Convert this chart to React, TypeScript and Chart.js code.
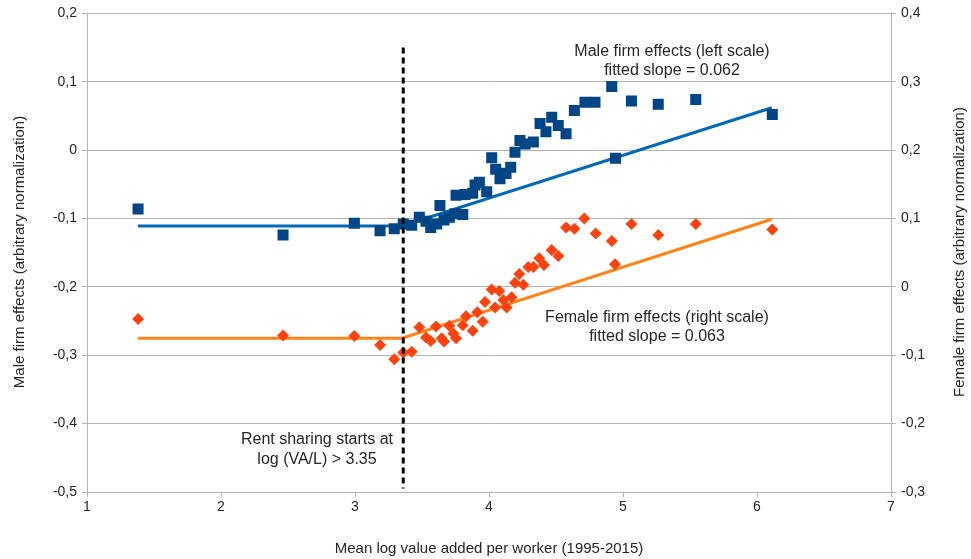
import React, { useEffect, useRef } from "react";
import { Chart, registerables } from "chart.js";

Chart.register(...registerables);

// Male firm effects (left scale)
const maleX = [1.381, 2.463, 2.995, 3.187, 3.293, 3.36, 3.423, 3.48, 3.53, 3.565, 3.61, 3.634, 3.664, 3.704, 3.746, 3.804, 3.754, 3.821, 3.878, 3.896, 3.928, 3.983, 4.02, 4.05, 4.082, 4.127, 4.162, 4.194, 4.231, 4.269, 4.331, 4.381, 4.425, 4.468, 4.517, 4.575, 4.637, 4.716, 4.791, 4.916, 4.944, 5.063, 5.263, 5.543, 6.114];
const maleY = [-0.086, -0.124, -0.107, -0.118, -0.115, -0.108, -0.11, -0.098, -0.104, -0.113, -0.108, -0.081, -0.102, -0.098, -0.093, -0.094, -0.066, -0.065, -0.063, -0.051, -0.047, -0.061, -0.011, -0.028, -0.042, -0.034, -0.025, -0.003, 0.014, 0.009, 0.012, 0.039, 0.027, 0.048, 0.036, 0.024, 0.058, 0.07, 0.07, 0.093, -0.012, 0.072, 0.067, 0.074, 0.052];

// Female firm effects (right scale)
const femaleX = [1.381, 2.463, 2.995, 3.187, 3.293, 3.36, 3.423, 3.48, 3.53, 3.565, 3.604, 3.647, 3.664, 3.704, 3.734, 3.754, 3.804, 3.828, 3.878, 3.913, 3.953, 3.97, 4.02, 4.045, 4.077, 4.107, 4.132, 4.169, 4.194, 4.226, 4.256, 4.293, 4.331, 4.375, 4.41, 4.468, 4.517, 4.575, 4.637, 4.711, 4.796, 4.916, 4.94, 5.063, 5.263, 5.543, 6.114];
const femaleY = [-0.047, -0.071, -0.072, -0.085, -0.106, -0.096, -0.095, -0.059, -0.074, -0.079, -0.058, -0.075, -0.08, -0.057, -0.068, -0.075, -0.056, -0.043, -0.064, -0.037, -0.051, -0.022, -0.004, -0.03, -0.006, -0.019, -0.03, -0.015, 0.006, 0.019, 0.003, 0.029, 0.029, 0.042, 0.032, 0.054, 0.045, 0.087, 0.085, 0.1, 0.078, 0.067, 0.033, 0.092, 0.076, 0.092, 0.084];

// Fitted lines
const fitX = [1.38, 3.35, 6.11];
const maleFitY = [-0.111, -0.111, 0.062];
const femaleFitY = [-0.075, -0.075, 0.099];

// Rent-sharing threshold marker
const cutoffX = [3.36, 3.36];
const cutoffY = [0.15, -0.495];

const xTicks = [1, 2, 3, 4, 5, 6, 7];

const FONT = "'Liberation Sans', Arial, sans-serif";
const TEXT = "#262626";
const GRID = "#b3b3b3";

const fmt = (v: number) => {
  if (Math.abs(v) < 1e-9) return "0";
  return v.toFixed(1).replace(".", ",");
};

const pts = (xs: number[], ys: number[]) => xs.map((x, i) => ({ x, y: ys[i] }));

const textPlugin = {
  id: "annotations",
  afterDraw(chart: any) {
    const ctx = chart.ctx;
    ctx.save();
    ctx.fillStyle = TEXT;
    ctx.textAlign = "center";
    ctx.textBaseline = "middle";
    ctx.font = `16px ${FONT}`;
    ctx.fillText("Male firm effects (left scale)", 672, 52);
    ctx.fillText("fitted slope = 0.062", 672, 71);
    ctx.fillText("Female firm effects (right scale)", 657, 318);
    ctx.fillText("fitted slope = 0.063", 657, 337);
    ctx.fillText("Rent sharing starts at", 317, 440);
    ctx.fillText("log (VA/L) > 3.35", 317, 460);

    ctx.font = `15px ${FONT}`;
    ctx.fillText("Mean log value added per worker (1995-2015)", 489, 549);
    ctx.save();
    ctx.translate(20, 252);
    ctx.rotate(-Math.PI / 2);
    ctx.fillText("Male firm effects (arbitrary normalization)", 0, 0);
    ctx.restore();
    ctx.save();
    ctx.translate(960, 252);
    ctx.rotate(-Math.PI / 2);
    ctx.fillText("Female firm effects (arbitrary normalization)", 0, 0);
    ctx.restore();
    ctx.restore();
  },
};

export default function App() {
  const ref = useRef<HTMLCanvasElement>(null);

  useEffect(() => {
    if (!ref.current) return;
    const chart = new Chart(ref.current, {
      type: "scatter",
      data: {
        datasets: [
          {
            label: "cutoff",
            data: pts(cutoffX, cutoffY),
            yAxisID: "y",
            showLine: true,
            borderColor: "#000000",
            borderWidth: 3,
            borderDash: [6, 4],
            pointRadius: 0,
          },
          {
            label: "Male firm effects",
            data: pts(maleX, maleY),
            yAxisID: "y",
            pointStyle: "rect",
            pointRadius: 7.8,
            pointBackgroundColor: "#004586",
            pointBorderColor: "#004586",
            pointBorderWidth: 0,
            showLine: false,
          },
          {
            label: "Female firm effects",
            data: pts(femaleX, femaleY),
            yAxisID: "y1",
            pointStyle: "rectRot",
            pointRadius: 6,
            pointBackgroundColor: "#ff420e",
            pointBorderColor: "#ff420e",
            pointBorderWidth: 0,
            showLine: false,
          },
          {
            label: "Male fit",
            data: pts(fitX, maleFitY),
            yAxisID: "y",
            showLine: true,
            borderColor: "#0069b8",
            borderWidth: 3,
            pointRadius: 0,
          },
          {
            label: "Female fit",
            data: pts(fitX, femaleFitY),
            yAxisID: "y1",
            showLine: true,
            borderColor: "#ff851b",
            borderWidth: 3,
            pointRadius: 0,
          },
        ],
      },
      options: {
        responsive: false,
        animation: false,
        layout: { padding: { top: 13, left: 0, right: 0, bottom: 0 } },
        plugins: {
          legend: { display: false },
          tooltip: { enabled: false },
        },
        scales: {
          x: {
            type: "linear",
            min: 1,
            max: 7,
            afterBuildTicks: (s: any) => {
              s.ticks = xTicks.map((v) => ({ value: v }));
            },
            ticks: { color: TEXT, font: { family: FONT, size: 14 }, padding: 2 },
            grid: { drawOnChartArea: false, drawTicks: true, tickLength: 5, color: GRID },
            border: { color: GRID },
            afterFit: (s: any) => {
              s.height = 67;
            },
          },
          y: {
            position: "left",
            min: -0.5,
            max: 0.2,
            ticks: {
              stepSize: 0.1,
              color: TEXT,
              font: { family: FONT, size: 14 },
              padding: 5,
              callback: (v: any) => fmt(Number(v)),
            },
            grid: { color: GRID, tickLength: 5 },
            border: { color: GRID },
            afterFit: (s: any) => {
              s.width = 87;
            },
          },
          y1: {
            position: "right",
            min: -0.3,
            max: 0.4,
            ticks: {
              stepSize: 0.1,
              color: TEXT,
              font: { family: FONT, size: 14 },
              padding: 5,
              callback: (v: any) => fmt(Number(v)),
            },
            grid: { drawOnChartArea: false, tickLength: 5, color: GRID },
            border: { color: GRID },
            afterFit: (s: any) => {
              s.width = 80;
            },
          },
        },
      },
      plugins: [textPlugin],
    });
    return () => chart.destroy();
  }, []);

  return (
    <div style={{ position: "absolute", left: 0, top: 0, width: 971, height: 559, background: "#ffffff" }}>
      <canvas ref={ref} width={971} height={559} style={{ width: 971, height: 559 }} />
    </div>
  );
}
